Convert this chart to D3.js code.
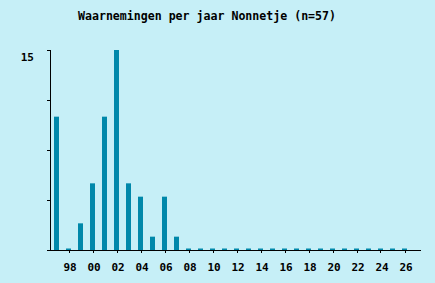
<!DOCTYPE html>
<html><head><meta charset="utf-8">
<script src="https://cdn.jsdelivr.net/npm/d3@7"></script>
<style>html,body{margin:0;padding:0;background:#c6eff7;}svg{display:block;}</style>
</head><body>
<svg id="c" width="435" height="283"></svg>
<script>
const title = "Waarnemingen per jaar Nonnetje (n=57)";
const years = [1997,1998,1999,2000,2001,2002,2003,2004,2005,2006,2007,2008,2009,2010,2011,2012,2013,2014,2015,2016,2017,2018,2019,2020,2021,2022,2023,2024,2025,2026];
const counts = [10,0,2,5,10,15,5,4,1,4,1,0,0,0,0,0,0,0,0,0,0,0,0,0,0,0,0,0,0,0];
const xTickYears = [1998,2000,2002,2004,2006,2008,2010,2012,2014,2016,2018,2020,2022,2024,2026];
const yTicks = [0,3.75,7.5,11.25,15];
const yLabels = [15];

const svg = d3.select("#c");
const bg = "#c6eff7", barColor = "#0088aa";
svg.append("rect").attr("width",435).attr("height",283).attr("fill",bg);

const x = d3.scaleLinear().domain([1997,2026]).range([56.5,404.5]);
const y = d3.scaleLinear().domain([0,15]).range([250,50]);
const font = "'DejaVu Sans Mono', monospace";

svg.append("text").attr("x",78).attr("y",20).attr("text-anchor","start")
  .attr("textLength",258).attr("lengthAdjust","spacingAndGlyphs")
  .attr("font-family",font).attr("font-weight","bold").attr("font-size",12).attr("fill","#000").text(title);

// bars
svg.selectAll("rect.bar").data(years).enter().append("rect").attr("class","bar")
  .attr("x",d=>x(d)-2.5).attr("width",5)
  .attr("y",(d,i)=> counts[i]>0 ? y(counts[i]) : 248.5)
  .attr("height",(d,i)=> counts[i]>0 ? 250-y(counts[i]) : 2)
  .attr("fill",barColor);

// x axis line
svg.append("line").attr("x1",50).attr("x2",421).attr("y1",250.5).attr("y2",250.5).attr("stroke","#000").attr("stroke-width",1);
// y axis line
svg.append("line").attr("x1",50.5).attr("x2",50.5).attr("y1",50).attr("y2",251).attr("stroke","#000").attr("stroke-width",1);

// y ticks
svg.selectAll("line.yt").data(yTicks).enter().append("line").attr("class","yt")
  .attr("x1",47).attr("x2",50.5).attr("y1",d=>Math.round(y(d))+0.5).attr("y2",d=>Math.round(y(d))+0.5).attr("stroke","#000");
svg.selectAll("text.yl").data(yLabels).enter().append("text").attr("class","yl")
  .attr("x",34).attr("y",d=>y(d)+11).attr("text-anchor","end")
  .attr("font-family",font).attr("font-weight","bold").attr("font-size",11).text(d=>d);

// x ticks
svg.selectAll("line.xt").data(xTickYears).enter().append("line").attr("class","xt")
  .attr("x1",d=>Math.round(x(d))+0.5).attr("x2",d=>Math.round(x(d))+0.5).attr("y1",250).attr("y2",253).attr("stroke","#000");
svg.selectAll("text.xl").data(xTickYears).enter().append("text").attr("class","xl")
  .attr("x",d=>x(d)+1.5).attr("y",271).attr("text-anchor","middle")
  .attr("font-family",font).attr("font-weight","bold").attr("font-size",11)
  .text(d=>String(d%100).padStart(2,"0"));
</script>
</body></html>
